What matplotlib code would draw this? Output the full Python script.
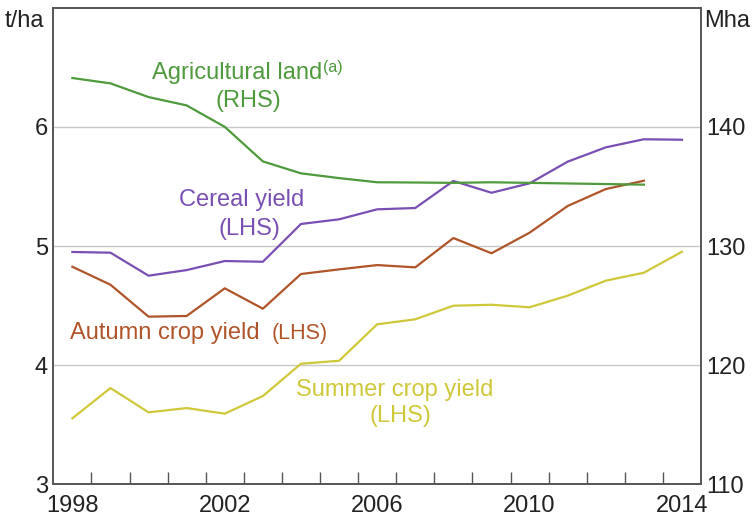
import matplotlib.pyplot as plt
import numpy as np

plt.rcParams['font.family'] = ['Liberation Sans', 'DejaVu Sans']

years = list(range(1998, 2015))

# Agricultural land, Mha (RHS), 1998-2013
ag_land = [144.1, 143.65, 142.5, 141.8, 140.0, 137.1, 136.1, 135.7, 135.35,
           135.33, 135.3, 135.35, 135.3, 135.25, 135.2, 135.15]
# Cereal yield, t/ha (LHS), 1998-2014
cereal = [4.95, 4.944, 4.751, 4.798, 4.874, 4.868, 5.185, 5.224, 5.308,
          5.319, 5.546, 5.447, 5.526, 5.708, 5.828, 5.896, 5.892]
# Autumn crop yield, t/ha (LHS), 1998-2013
autumn = [4.826, 4.675, 4.407, 4.413, 4.645, 4.474, 4.765, 4.804, 4.84,
          4.821, 5.067, 4.939, 5.112, 5.336, 5.478, 5.548]
# Summer crop yield, t/ha (LHS), 1998-2014
summer = [3.554, 3.808, 3.604, 3.64, 3.593, 3.741, 4.012, 4.037, 4.343,
          4.385, 4.499, 4.507, 4.486, 4.583, 4.709, 4.776, 4.952]

green = '#4e9a3c'
purple = '#7a4fb3'
brown = '#b0542a'
yellow = '#cfc83a'
axis_col = '#555555'
txt = '#222222'
fs = 17

fig = plt.figure(figsize=(7.53, 5.21), dpi=100)
ax = fig.add_axes([0.0708, 0.0704, 0.8602, 0.9148])
ax2 = ax.twinx()

ax.plot(years, cereal, color=purple, lw=1.6)
ax.plot(years[:16], autumn, color=brown, lw=1.6)
ax.plot(years, summer, color=yellow, lw=1.6)
ax2.plot(years[:16], ag_land, color=green, lw=1.6)

ax.set_xlim(1997.5, 2014.5)
ax.set_ylim(3, 7)
ax2.set_ylim(110, 150)

ax.set_yticks([3, 4, 5, 6])
ax2.set_yticks([110, 120, 130, 140])
for g in [4, 5, 6]:
    ax.axhline(g, color='#c8c8c8', lw=1, zorder=0)

ax.set_xticks([1998, 2002, 2006, 2010, 2014])
ax.set_xticks(np.arange(1998.5, 2014.5, 1), minor=True)
ax.tick_params(axis='x', which='major', length=0, pad=8, labelsize=fs, colors=txt)
ax.tick_params(axis='x', which='minor', direction='in', length=9, width=1, color=axis_col)
ax.tick_params(axis='y', length=0, pad=4, labelsize=fs, colors=txt)
ax2.tick_params(axis='y', length=0, pad=4, labelsize=fs, colors=txt)

for a in (ax, ax2):
    for s in a.spines.values():
        s.set_color(axis_col)
        s.set_linewidth(1.2)

fig.text(0.006, 0.96, 't/ha', fontsize=fs, color=txt, va='center', ha='left')
fig.text(0.935, 0.96, 'Mha', fontsize=fs, color=txt, va='center', ha='left')

ax.text(2002.32, 6.452, 'Agricultural land', color=green, fontsize=fs, ha='center', va='center')
ax.text(2004.58, 6.5, '(a)', color=green, fontsize=11.5, ha='left', va='center')
ax.text(2002.61, 6.217, '(RHS)', color=green, fontsize=fs, ha='center', va='center')
ax.text(2002.43, 5.386, 'Cereal yield', color=purple, fontsize=fs, ha='center', va='center')
ax.text(2002.66, 5.143, '(LHS)', color=purple, fontsize=fs, ha='center', va='center')
ax.text(1997.94, 4.271, 'Autumn crop yield', color=brown, fontsize=fs, ha='left', va='center')
ax.text(2003.22, 4.265, '(LHS)', color=brown, fontsize=15.5, ha='left', va='center')
ax.text(2006.46, 3.792, 'Summer crop yield', color=yellow, fontsize=fs, ha='center', va='center')
ax.text(2006.6, 3.574, '(LHS)', color=yellow, fontsize=fs, ha='center', va='center')

fig.savefig('out.png', dpi=100)
